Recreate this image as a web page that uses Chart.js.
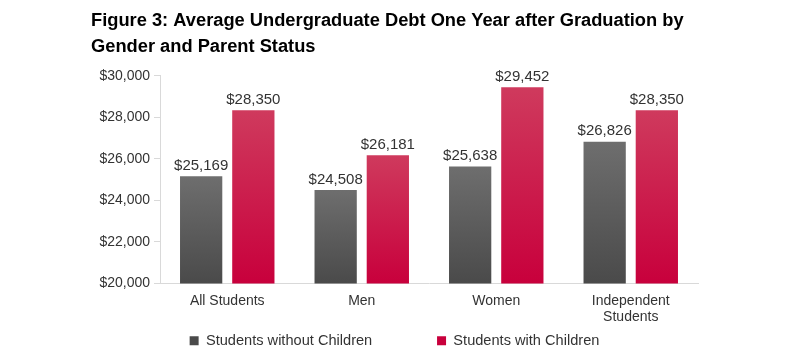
<!DOCTYPE html>
<html>
<head>
<meta charset="utf-8">
<script src="https://cdn.jsdelivr.net/npm/chart.js@4"></script>
<style>
	body { margin: 0; background: #fff; }
	#wrap { width: 802px; height: 355px; }
</style>
</head>
<body>
<div id="wrap"><canvas id="chart" width="802" height="355"></canvas></div>
<script>
// データ
const categories = ['All Students', 'Men', 'Women', ['Independent', 'Students']];
const withoutChildren = [25169, 24508, 25638, 26826];
const withChildren = [28350, 26181, 29452, 28350];
const seriesNames = ['Students without Children', 'Students with Children'];
const yTicks = [20000, 22000, 24000, 26000, 28000, 30000];

const money = v => '$' + v.toLocaleString('en-US');

// 棒ごとのグラデーション
function barGradient(top, bottom) {
	return (context) => {
		const chart = context.chart;
		const area = chart.chartArea;
		if (!area || context.parsed === undefined) return bottom;
		const y = chart.scales.y.getPixelForValue(context.parsed.y);
		const g = chart.ctx.createLinearGradient(0, y, 0, area.bottom);
		g.addColorStop(0, top);
		g.addColorStop(1, bottom);
		return g;
	};
}

// 値ラベル
const valueLabels = {
	id: 'valueLabels',
	afterDatasetsDraw(chart) {
		const ctx = chart.ctx;
		ctx.save();
		ctx.font = '15px "Liberation Sans", Arial, sans-serif';
		ctx.fillStyle = '#333333';
		ctx.textAlign = 'center';
		ctx.textBaseline = 'bottom';
		chart.data.datasets.forEach((ds, i) => {
			chart.getDatasetMeta(i).data.forEach((bar, j) => {
				ctx.fillText(money(ds.data[j]), bar.x, bar.y - 3);
			});
		});
		ctx.restore();
	}
};

let config = {
	type: 'bar',
	data: {
		labels: categories,
		datasets: [
			{
				label: seriesNames[0],
				data: withoutChildren,
				backgroundColor: barGradient('#6e6e6e', '#4a4a4a'),
			},
			{
				label: seriesNames[1],
				data: withChildren,
				backgroundColor: barGradient('#cf3a5d', '#c8003c'),
			},
		]
	},
	options: {
		responsive: false,
		animation: false,
		categoryPercentage: 0.776,
		barPercentage: 0.81,
		layout: {
			padding: { left: 91, right: 104, top: 0, bottom: -3 }
		},
		plugins: {
			title: {
				display: true,
				align: 'start',
				text: ['Figure 3: Average Undergraduate Debt One Year after Graduation by', 'Gender and Parent Status'],
				color: '#000000',
				font: { family: '"Liberation Sans", Arial, sans-serif', size: 18.3, weight: 'bold', lineHeight: 1.42 },
				padding: { top: 8, bottom: 16 }
			},
			legend: {
				position: 'bottom',
				labels: {
					boxWidth: 9,
					boxHeight: 9,
					padding: 4,
					color: '#333333',
					font: { family: '"Liberation Sans", Arial, sans-serif', size: 14.6 },
					// 凡例の間隔を広げる
					generateLabels: (chart) => {
						const items = Chart.defaults.plugins.legend.labels.generateLabels(chart);
						items[0].text += '               ';
						return items;
					}
				}
			},
			tooltip: { enabled: false }
		},
		scales: {
			x: {
				afterFit: (scale) => { scale.height = 46; },
				grid: { display: false },
				border: { display: true, color: '#d9d9d9' },
				ticks: {
					color: '#333333',
					padding: 1,
					font: { family: '"Liberation Sans", Arial, sans-serif', size: 14 },
					maxRotation: 0
				}
			},
			y: {
				min: 20000,
				max: 30000,
				afterFit: (scale) => { scale.width = 69; },
				afterBuildTicks: (scale) => { scale.ticks = yTicks.map(v => ({ value: v })); },
				grid: { drawOnChartArea: false, drawTicks: true, tickLength: 6, color: '#d9d9d9' },
				border: { display: true, color: '#d9d9d9' },
				ticks: {
					color: '#333333',
					padding: 4,
					font: { family: '"Liberation Sans", Arial, sans-serif', size: 14 },
					callback: (v) => money(v)
				}
			}
		}
	},
	plugins: [valueLabels]
};

const myChart = new Chart(document.getElementById('chart').getContext('2d'), config);
</script>
</body>
</html>
